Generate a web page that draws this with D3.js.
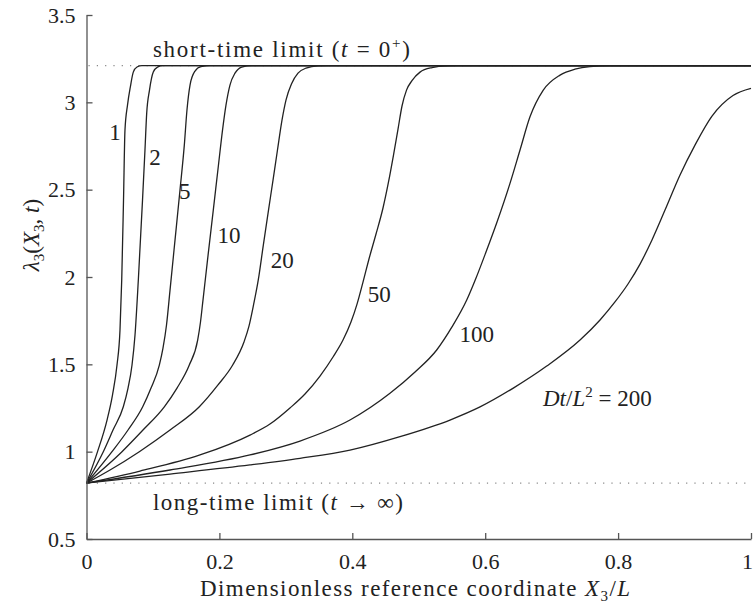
<!DOCTYPE html>
<meta charset="utf-8">
<style>
body { margin: 0; background: #fff; }
svg { font-family: "Liberation Serif", "Times New Roman", serif; }
.axis path, .axis line { stroke: #555; stroke-width: 1.3; }
.axis text { font-size: 22px; fill: #222; font-family: "Liberation Serif", serif; }
.curve { fill: none; stroke: #222; stroke-width: 1.3; }
.limit { fill: none; stroke: #888; stroke-width: 1.2; stroke-dasharray: 1.2,7.1; }
.lab { font-size: 23px; fill: #222; }
</style>
<body>
<script src="https://cdnjs.cloudflare.com/ajax/libs/d3/7.8.5/d3.min.js"></script>
<script>

// values: [X3/L, lambda3]
var dtValues = [1, 2, 5, 10, 20, 50, 100, 200];

var c1 = [[0,0.82],[0.0166,1.0],[0.0309,1.181],[0.0391,1.324],[0.0459,1.496],[0.0504,1.696],[0.053,1.983],
  [0.0557,2.44],[0.0579,2.841],[0.0617,2.984],[0.0662,3.093],[0.0704,3.173],[0.076,3.202],[0.0835,3.21],[1,3.21]];
var c2 = [[0,0.82],[0.0253,1.0],[0.0399,1.124],[0.0554,1.257],[0.0625,1.364],[0.0685,1.496],[0.073,1.668],
  [0.078,1.983],[0.0843,2.44],[0.088,2.727],[0.0906,2.938],[0.0948,3.07],[0.1005,3.173],[0.1068,3.202],
  [0.1151,3.21],[1,3.21]];
var c5 = [[0,0.82],[0.0384,1.0],[0.0625,1.124],[0.0846,1.257],[0.0971,1.364],[0.1096,1.496],[0.1151,1.593],
  [0.1204,1.725],[0.1257,1.925],[0.1332,2.211],[0.1407,2.498],[0.1472,2.755],[0.1512,2.956],[0.1558,3.099],
  [0.1633,3.179],[0.1723,3.205],[0.1859,3.21],[1,3.21]];
var c10 = [[0,0.82],[0.0534,1.0],[0.085,1.124],[0.1171,1.257],[0.1362,1.364],[0.1547,1.496],[0.1673,1.639],
  [0.1715,1.741],[0.1753,1.868],[0.1821,2.097],[0.1908,2.383],[0.1983,2.631],[0.2047,2.841],[0.2099,2.984],
  [0.2159,3.099],[0.2235,3.167],[0.2336,3.202],[0.2491,3.21],[1,3.21]];
var c20 = [[0,0.82],[0.0354,0.895],[0.0795,1.0],[0.1257,1.124],[0.1698,1.257],[0.1979,1.382],[0.22,1.496],
  [0.237,1.628],[0.2445,1.719],[0.2513,1.839],[0.2585,1.983],[0.2661,2.183],[0.2739,2.383],[0.2807,2.555],
  [0.2874,2.727],[0.2942,2.898],[0.3002,3.013],[0.3088,3.108],[0.3183,3.167],[0.3303,3.196],[0.3484,3.209],
  [0.3664,3.21],[1,3.21]];
var c50 = [[0,0.82],[0.0805,0.889],[0.1708,0.981],[0.246,1.095],[0.2761,1.158],[0.3062,1.25],[0.3288,1.33],
  [0.3514,1.433],[0.371,1.542],[0.386,1.639],[0.398,1.742],[0.4071,1.845],[0.4161,1.971],[0.4251,2.103],
  [0.4357,2.246],[0.4462,2.395],[0.4545,2.544],[0.462,2.698],[0.4688,2.847],[0.4748,2.979],[0.4816,3.07],
  [0.4898,3.124],[0.5019,3.173],[0.52,3.199],[0.5425,3.209],[0.5576,3.21],[1,3.21]];
var c100 = [[0,0.82],[0.1257,0.895],[0.246,0.981],[0.3213,1.061],[0.3965,1.181],[0.4567,1.334],[0.4944,1.456],
  [0.527,1.582],[0.55,1.714],[0.5722,1.868],[0.5862,1.994],[0.6012,2.143],[0.6178,2.315],[0.6373,2.536],
  [0.6524,2.727],[0.6674,2.917],[0.6874,3.07],[0.7126,3.156],[0.7351,3.19],[0.7577,3.205],[0.7878,3.21],[1,3.21]];
var c200 = [[0,0.82],[0.1257,0.872],[0.246,0.924],[0.3213,0.962],[0.3965,1.009],[0.4718,1.086],[0.547,1.181],
  [0.5922,1.256],[0.6423,1.364],[0.6926,1.49],[0.7427,1.639],[0.7728,1.754],[0.7953,1.857],[0.8149,1.96],
  [0.833,2.074],[0.851,2.212],[0.8706,2.383],[0.8932,2.584],[0.9157,2.755],[0.9413,2.921],[0.9729,3.039],[1.0,3.08]];

var curves = [c1, c2, c5, c10, c20, c50, c100, c200];

var shortLimit = 3.21, longLimit = 0.82;
var xTicks = [0, 0.2, 0.4, 0.6, 0.8, 1];
var yTicks = [0.5, 1, 1.5, 2, 2.5, 3, 3.5];

var margin = {top: 15, right: 2, bottom: 67, left: 86.5},
    width = 753 - margin.left - margin.right,
    height = 606 - margin.top - margin.bottom;

var x = d3.scaleLinear().domain([0, 1]).range([0, width]);
var y = d3.scaleLinear().domain([0.5, 3.5]).range([height, 0]);

var svg = d3.select("body").append("svg")
    .attr("width", 753)
    .attr("height", 606)
  .append("g")
    .attr("transform", "translate(" + margin.left + "," + margin.top + ")");

// dotted limits
svg.selectAll(".limit")
    .data([shortLimit, longLimit])
  .enter().append("line")
    .attr("class", "limit")
    .attr("x1", 2).attr("x2", width)
    .attr("y1", function(d) { return y(d); })
    .attr("y2", function(d) { return y(d); });

var line = d3.line()
    .x(function(d) { return x(d[0]); })
    .y(function(d) { return y(d[1]); })
    .curve(d3.curveMonotoneX);

svg.selectAll(".curve")
    .data(curves)
  .enter().append("path")
    .attr("class", "curve")
    .attr("d", line);

// axes, ticks pointing inward
var fmt = d3.format("~g");
var xAxisG = svg.append("g")
    .attr("class", "axis")
    .attr("transform", "translate(0," + height + ")")
    .call(d3.axisBottom(x).tickValues(xTicks).tickFormat(fmt)
      .tickSizeInner(-6).tickSizeOuter(0).tickPadding(14));
// keep the last label inside the page
xAxisG.selectAll(".tick text").filter(function(d) { return d === 1; }).attr("dx", -4);

svg.append("g")
    .attr("class", "axis")
    .call(d3.axisLeft(y).tickValues(yTicks).tickFormat(fmt)
      .tickSizeInner(-6).tickSizeOuter(0).tickPadding(11));

// curve labels
var labelPos = [[0.043, 2.784], [0.103, 2.641], [0.148, 2.445], [0.2144, 2.194],
                [0.2947, 2.051], [0.4406, 1.858], [0.5872, 1.629]];
svg.selectAll(".dtlab")
    .data(dtValues.slice(0, 7))
  .enter().append("text")
    .attr("class", "lab")
    .attr("text-anchor", "middle")
    .attr("x", function(d, i) { return x(labelPos[i][0]); })
    .attr("y", function(d, i) { return y(labelPos[i][1]); })
    .text(function(d) { return d; });

var last = svg.append("text")
    .attr("class", "lab")
    .attr("x", x(0.687))
    .attr("y", y(1.262));
last.append("tspan").style("font-style", "italic").text("Dt");
last.append("tspan").text("/");
last.append("tspan").style("font-style", "italic").text("L");
last.append("tspan").attr("dy", -9).style("font-size", "15px").text("2");
last.append("tspan").attr("dy", 9).text(" = " + dtValues[7]);

var st = svg.append("text").attr("class", "lab")
    .attr("x", x(0.1)).attr("y", y(3.257))
    .attr("textLength", 257);
st.append("tspan").text("short-time limit (");
st.append("tspan").style("font-style", "italic").text("t");
st.append("tspan").text(" = 0");
st.append("tspan").attr("dy", -9).style("font-size", "15px").text("+");
st.append("tspan").attr("dy", 9).text(")");

var lt = svg.append("text").attr("class", "lab")
    .attr("x", x(0.1)).attr("y", y(0.666))
    .attr("textLength", 250);
lt.append("tspan").text("long-time limit (");
lt.append("tspan").style("font-style", "italic").text("t");
lt.append("tspan").text(" \u2192 \u221e)");

// x label
var xl = svg.append("text").attr("class", "lab")
    .attr("x", 200 - margin.left)
    .attr("y", height + 57)
    .attr("textLength", 430);
xl.append("tspan").text("Dimensionless reference coordinate ");
xl.append("tspan").style("font-style", "italic").text("X");
xl.append("tspan").attr("dy", 5).style("font-size", "15px").text("3");
xl.append("tspan").attr("dy", -5).text("/");
xl.append("tspan").style("font-style", "italic").text("L");

// y label
var yl = svg.append("text").attr("class", "lab")
    .attr("text-anchor", "middle")
    .attr("transform", "translate(" + (39 - margin.left) + "," + (235 - margin.top) + ") rotate(-90)");
yl.append("tspan").style("font-style", "italic").text("\u03bb");
yl.append("tspan").attr("dy", 5).style("font-size", "15px").text("3");
yl.append("tspan").attr("dy", -5).text("(");
yl.append("tspan").style("font-style", "italic").text("X");
yl.append("tspan").attr("dy", 5).style("font-size", "15px").text("3");
yl.append("tspan").attr("dy", -5).text(", ");
yl.append("tspan").style("font-style", "italic").text("t");
yl.append("tspan").text(")");

</script>
</body>
